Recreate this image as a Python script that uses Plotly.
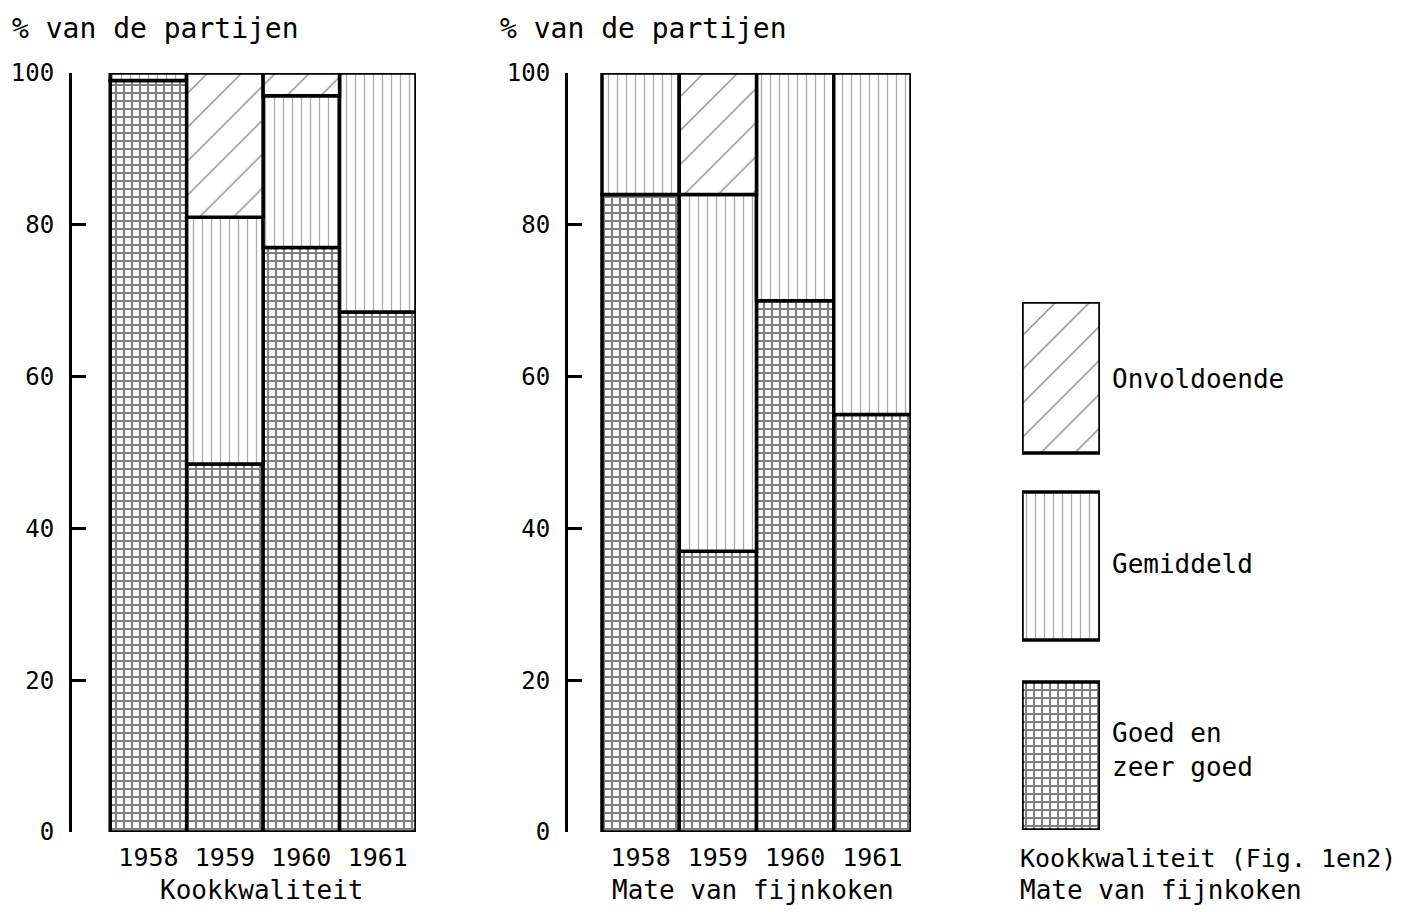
import plotly.graph_objects as go

# ---------------- data ----------------
years = ["1958", "1959", "1960", "1961"]

# Kookkwaliteit (% van de partijen)
kook_goed = [99, 48.5, 77, 68.5]
kook_gemiddeld = [1, 32.5, 20, 31.5]
kook_onvoldoende = [0, 19, 3, 0]

# Mate van fijnkoken (% van de partijen)
fijn_goed = [84, 37, 70, 55]
fijn_gemiddeld = [16, 47, 30, 45]
fijn_onvoldoende = [0, 16, 0, 0]

legend_labels = ["Goed en<br>zeer goed", "Gemiddeld", "Onvoldoende"]

y_ticks = [0, 20, 40, 60, 80, 100]

# ---------------- styling ----------------
OFF = 8                      # page (body) margin
W, H = 1417 - OFF, 912 - OFF
FONT = "DejaVu Sans Mono"


def xp(px):
    return (px - OFF) / W


def yp(py):
    return 1 - (py - OFF) / H


patterns = {
    "goed": dict(shape="+", fgcolor="black", bgcolor="white", size=8, solidity=0.45),
    "gemiddeld": dict(shape="|", fgcolor="#555555", bgcolor="white", size=9, solidity=0.14),
    "onvoldoende": dict(shape="/", fgcolor="#222222", bgcolor="white", size=24, solidity=0.06),
}
outline = dict(color="black", width=3.5)

fig = go.Figure()


def add_stack(goed, gem, onv, xa, ya):
    xs = list(range(len(years)))
    base_gem = [g for g in goed]
    base_onv = [g + m for g, m in zip(goed, gem)]
    for vals, base, key in [
        (goed, [0] * len(goed), "goed"),
        (gem, base_gem, "gemiddeld"),
        (onv, base_onv, "onvoldoende"),
    ]:
        xv = [x for x, v in zip(xs, vals) if v > 0]
        yv = [v for v in vals if v > 0]
        bv = [b for b, v in zip(base, vals) if v > 0]
        fig.add_trace(go.Bar(
            x=xv, y=yv, base=bv, width=1.0,
            marker=dict(color="white", pattern=patterns[key], line=outline),
            xaxis=xa, yaxis=ya, showlegend=False, hoverinfo="skip",
            cliponaxis=False,
        ))


add_stack(kook_goed, kook_gemiddeld, kook_onvoldoende, "x", "y")
add_stack(fijn_goed, fijn_gemiddeld, fijn_onvoldoende, "x2", "y2")

# legend boxes drawn as bars on a hidden helper axis
legend_keys = ["goed", "gemiddeld", "onvoldoende"]
legend_base = [0, 190, 377]
legend_height = [148, 148, 151]
for key, b, h in zip(legend_keys, legend_base, legend_height):
    fig.add_trace(go.Bar(
        x=[0], y=[h], base=[b], width=1.0,
        marker=dict(color="white", pattern=patterns[key], line=outline),
        xaxis="x3", yaxis="y3", showlegend=False, hoverinfo="skip",
        cliponaxis=False,
    ))

y_dom = [yp(832), yp(73)]
yaxis_common = dict(
    domain=y_dom, range=[0, 100], tickvals=y_ticks,
    ticks="inside", ticklen=14, tickwidth=2.5, tickcolor="black",
    showline=True, linewidth=3, linecolor="black",
    showgrid=False, zeroline=False, automargin=False,
    tickfont=dict(family=FONT, size=24, color="black"),
    ticklabelstandoff=10,
)
xaxis_common = dict(
    range=[-1.0, 3.5], tickvals=[0, 1, 2, 3], ticktext=years,
    showline=False, ticks="", showgrid=False, zeroline=False, automargin=False,
    tickfont=dict(family=FONT, size=25, color="black"),
    ticklabelstandoff=8,
)

fig.update_layout(
    width=W, height=H,
    margin=dict(l=0, r=0, t=0, b=0, autoexpand=False),
    paper_bgcolor="white", plot_bgcolor="white",
    barmode="overlay",
    xaxis=dict(domain=[xp(72), xp(416)], anchor="y", **xaxis_common),
    yaxis=dict(anchor="x", **yaxis_common),
    xaxis2=dict(domain=[xp(568), xp(911)], anchor="y2",
                **{**xaxis_common, "range": [-0.94, 3.5]}),
    yaxis2=dict(anchor="x2", **yaxis_common),
    xaxis3=dict(domain=[xp(1022), xp(1100)], anchor="y3", range=[-0.5, 0.5],
                visible=False, automargin=False),
    yaxis3=dict(domain=[yp(830), yp(302)], anchor="x3", range=[0, 528],
                visible=False, automargin=False),
    showlegend=False,
)

ann_font = dict(family=FONT, size=26, color="black")
title_font = dict(family=FONT, size=28, color="black")
annotations = [
    dict(x=xp(10), y=yp(28), text="% van de partijen", xanchor="left", yanchor="middle",
         font=title_font),
    dict(x=xp(498), y=yp(28), text="% van de partijen", xanchor="left", yanchor="middle",
         font=title_font),
    dict(x=xp(262), y=yp(890), text="Kookkwaliteit", xanchor="center", yanchor="middle",
         font=ann_font),
    dict(x=xp(753), y=yp(890), text="Mate van fijnkoken", xanchor="center", yanchor="middle",
         font=ann_font),
    dict(x=xp(1018), y=yp(858), text="Kookkwaliteit (Fig. 1en2)", xanchor="left",
         yanchor="middle", font=dict(family=FONT, size=25, color="black")),
    dict(x=xp(1018), y=yp(890), text="Mate van fijnkoken", xanchor="left",
         yanchor="middle", font=ann_font),
]
legend_text_y = [750, 564, 379]
for lbl, ty in zip(legend_labels, legend_text_y):
    annotations.append(dict(x=xp(1110), y=yp(ty), text=lbl, xanchor="left", yanchor="middle",
                            align="left", font=ann_font))
for a in annotations:
    a.update(xref="paper", yref="paper", showarrow=False)
fig.update_layout(annotations=annotations)

fig.write_html("out.html")
